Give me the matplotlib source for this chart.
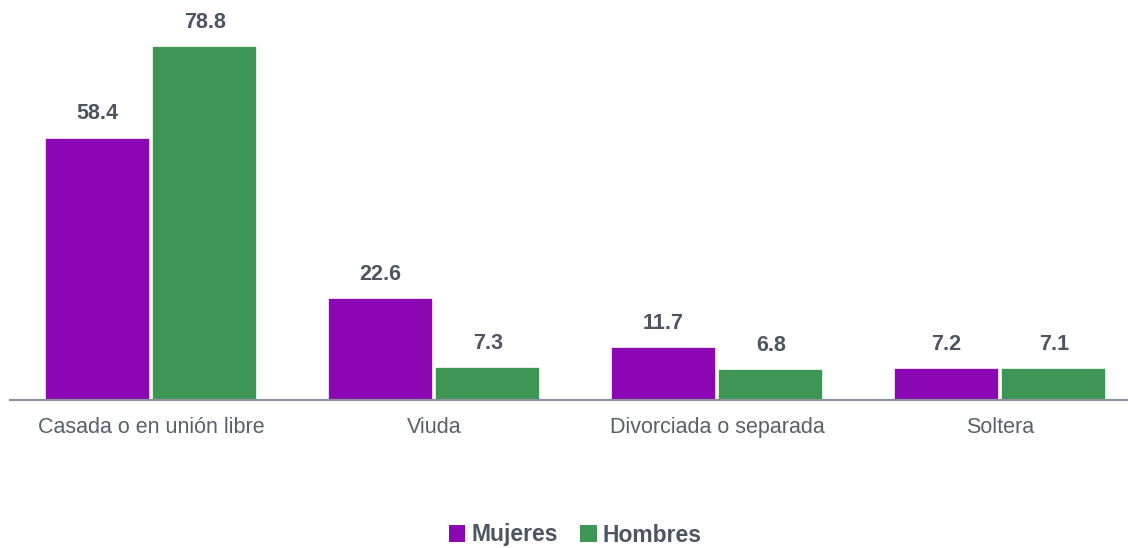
import matplotlib
matplotlib.use("Agg")
import matplotlib.pyplot as plt
import numpy as np
from matplotlib.patches import Patch

categories = ["Casada o en unión libre", "Viuda", "Divorciada o separada", "Soltera"]
mujeres = [58.4, 22.6, 11.7, 7.2]
hombres = [78.8, 7.3, 6.8, 7.1]
series_names = ["Mujeres", "Hombres"]

PURPLE = "#8a07b3"
GREEN = "#3d9654"
LABEL = "#4d5560"
TICK = "#5a6068"

plt.rcParams["font.family"] = ["Liberation Sans", "DejaVu Sans"]

fig = plt.figure(figsize=(11.28, 5.48), dpi=100)
ax = fig.add_axes([10 / 1128, 148 / 548, 1118 / 1128, 390 / 548])

x = np.arange(len(categories))
w = 0.372
off = 0.19
b1 = ax.bar(x - off, mujeres, w, color=PURPLE, edgecolor="white", linewidth=1.2)
b2 = ax.bar(x + off, hombres, w, color=GREEN, edgecolor="white", linewidth=1.2)

# value labels above each bar
for bars, vals in ((b1, mujeres), (b2, hombres)):
    for rect, v in zip(bars, vals):
        ax.annotate(f"{v:.1f}", (rect.get_x() + rect.get_width() / 2, v),
                    xytext=(0, 17), textcoords="offset points",
                    ha="center", va="center", fontsize=15.5,
                    fontweight="bold", color=LABEL)

ax.set_xlim(-0.498, 3.452)
ax.set_ylim(0, 86.8)
ax.set_yticks([])
ax.set_xticks(x)
ax.set_xticklabels(categories, fontsize=15.5, color=TICK)
ax.tick_params(axis="x", length=0, pad=12)
for s in ("top", "right", "left"):
    ax.spines[s].set_visible(False)
ax.spines["bottom"].set_color("#8a939c")
ax.spines["bottom"].set_linewidth(1.6)

handles = [Patch(facecolor=PURPLE, label=series_names[0]),
           Patch(facecolor=GREEN, label=series_names[1])]
leg = fig.legend(handles=handles, loc="center", ncol=2, frameon=False,
                 handlelength=0.7, handleheight=0.7,
                 handletextpad=0.25, columnspacing=1.0,
                 prop={"size": 16.5, "weight": "bold"})
leg.set_bbox_to_anchor((0.51, 1 - 535 / 548), transform=fig.transFigure)
for t in leg.get_texts():
    t.set_color(LABEL)

fig.savefig("out.png", dpi=100)
